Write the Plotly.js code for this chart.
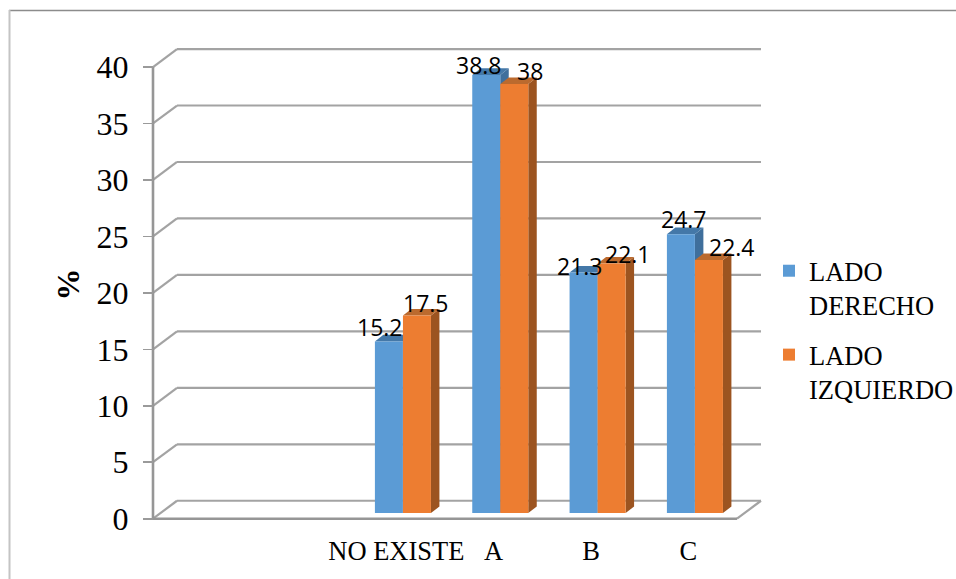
<!DOCTYPE html>
<html>
<head>
<meta charset="utf-8">
<script src="https://cdn.plot.ly/plotly-3.0.1.min.js"></script>
<style>html,body{margin:0;padding:0;background:#fff}</style>
</head>
<body>
<div id="chart" style="width:956px;height:579px"></div>
<script>
const categories = ["", "", "NO EXISTE", "A", "B", "C"];
const ladoDerecho = [null, null, 15.2, 38.8, 21.3, 24.7];
const ladoIzquierdo = [null, null, 17.5, 38, 22.1, 22.4];
const seriesNames = ["LADO<br>DERECHO", "LADO<br>IZQUIERDO"];
const yTicks = [0, 5, 10, 15, 20, 25, 30, 35, 40];

// projection of the pseudo-3D look, in axis units
const wallDx = 0.2466, wallDy = 1.59;
const barDx = 0.087, barDy = 0.58;
const barBase = 0.5, barWidth = 0.2877;
const offsets = [-0.22, 0.068];
const frameColor = "#a3a3a3";
const fronts = ["#5b9bd5", "#ed7d31"];
const tops = ["#4478a8", "#bb6a2e"];
const sides = ["#3f6f9c", "#9c5420"];
// nudges of the value labels, px
const labelShiftX = [[-9, -7, -4, 3], [9, 16, 16, 23]];
const labelShiftY = [[14, 10, 7, 15], [12, 13, 10, 13]];

const idx = categories.map((c, i) => i);
const xL = -0.5, xR = categories.length - 0.5;
const series = [ladoDerecho, ladoIzquierdo];

const shapes = [];
function poly(points, fill) {
  shapes.push({
    type: "path", xref: "x", yref: "y", layer: "below",
    path: "M" + points.map(p => p[0] + "," + p[1]).join(" L") + " Z",
    fillcolor: fill, line: {width: 0}
  });
}
function seg(x0, y0, x1, y1, w, col) {
  shapes.push({type: "line", xref: "x", yref: "y", layer: "below", x0, y0, x1, y1,
    line: {color: col || frameColor, width: w || 2.2}});
}
yTicks.forEach(v => {
  seg(xL, v, xL + wallDx, v + wallDy);
  seg(xL + wallDx, v + wallDy, xR + wallDx, v + wallDy);
});
// floor
seg(xR, 0, xR + wallDx, wallDy);
seg(xL, 0, xR, 0, 2.6, "#969696");
// value axis line
seg(xL, 0, xL, yTicks[yTicks.length - 1], 2.6, "#969696");

// side and top faces of each bar
series.forEach((vals, s) => {
  vals.forEach((v, i) => {
    if (v === null) return;
    const a = i + offsets[s], b = a + barWidth, y0 = barBase, y1 = barBase + v;
    poly([[b, y0], [b + barDx, y0 + barDy], [b + barDx, y1 + barDy], [b, y1]], sides[s]);
    poly([[a, y1], [a + barDx, y1 + barDy], [b + barDx, y1 + barDy], [b, y1]], tops[s]);
  });
});

// outer frame, paper coordinates
const pW = 625, pH = 491, pL = 145, pT = 39;
const px = x => (x - pL) / pW, py = y => (pT + pH - y) / pH;
shapes.push({type: "line", xref: "paper", yref: "paper", layer: "below",
  x0: px(9), y0: py(10.5), x1: px(956), y1: py(10.5), line: {color: "#8c8c8c", width: 1.6}});
shapes.push({type: "line", xref: "paper", yref: "paper", layer: "below",
  x0: px(9.5), y0: py(10), x1: px(9.5), y1: py(579), line: {color: "#c4c4c4", width: 2}});

const annotations = [];
series.forEach((vals, s) => {
  let k = 0;
  vals.forEach((v, i) => {
    if (v === null) return;
    annotations.push({
      x: i + offsets[s] + barWidth / 2, y: barBase + v, xref: "x", yref: "y",
      text: String(v), showarrow: false, xanchor: "center", yanchor: "middle",
      xshift: labelShiftX[s][k], yshift: labelShiftY[s][k],
      font: {family: "Open Sans, sans-serif", size: 23, color: "#000"}
    });
    k++;
  });
});

const traces = series.map((vals, s) => ({
  type: "bar", x: idx, y: vals, base: barBase, width: barWidth, offset: offsets[s],
  name: seriesNames[s], legendgroup: "g" + s,
  marker: {color: fronts[s], line: {width: 0}}, hoverinfo: "skip"
}));

Plotly.newPlot("chart", traces, {
  width: 956, height: 579,
  margin: {l: pL, r: 956 - pL - pW, t: pT, b: 579 - pT - pH, pad: 0, autoexpand: false},
  paper_bgcolor: "#fff", plot_bgcolor: "rgba(0,0,0,0)",
  barmode: "overlay", showlegend: true,
  font: {family: "Liberation Serif, serif", color: "#000"},
  xaxis: {
    range: [-0.5 - 8 / 97.33, 5.8392], tickmode: "array", tickvals: idx, ticktext: categories,
    showgrid: false, zeroline: false, showline: false, ticks: "", ticklabelstandoff: 2,
    tickfont: {size: 26.5, family: "Liberation Serif, serif"}
  },
  yaxis: {
    range: [-1, 42.48], tickmode: "array", tickvals: yTicks, anchor: "free", position: 8 / pW,
    showgrid: false, zeroline: false, showline: false,
    ticks: "outside", ticklen: 10, tickwidth: 1.6, tickcolor: "#9a9a9a", ticklabelstandoff: 8,
    tickfont: {size: 32, family: "Liberation Serif, serif"},
    title: {text: "<b>%</b>", font: {size: 32, family: "Liberation Serif, serif"}}
  },
  legend: {
    x: (769 - pL) / pW, y: py(247), xanchor: "left", yanchor: "top", valign: "top",
    font: {size: 26.5, family: "Liberation Serif, serif"}, tracegroupgap: 12,
    traceorder: "grouped", bgcolor: "rgba(0,0,0,0)", itemclick: false, itemdoubleclick: false
  },
  shapes, annotations
}, {displayModeBar: false, staticPlot: true});
</script>
</body>
</html>
